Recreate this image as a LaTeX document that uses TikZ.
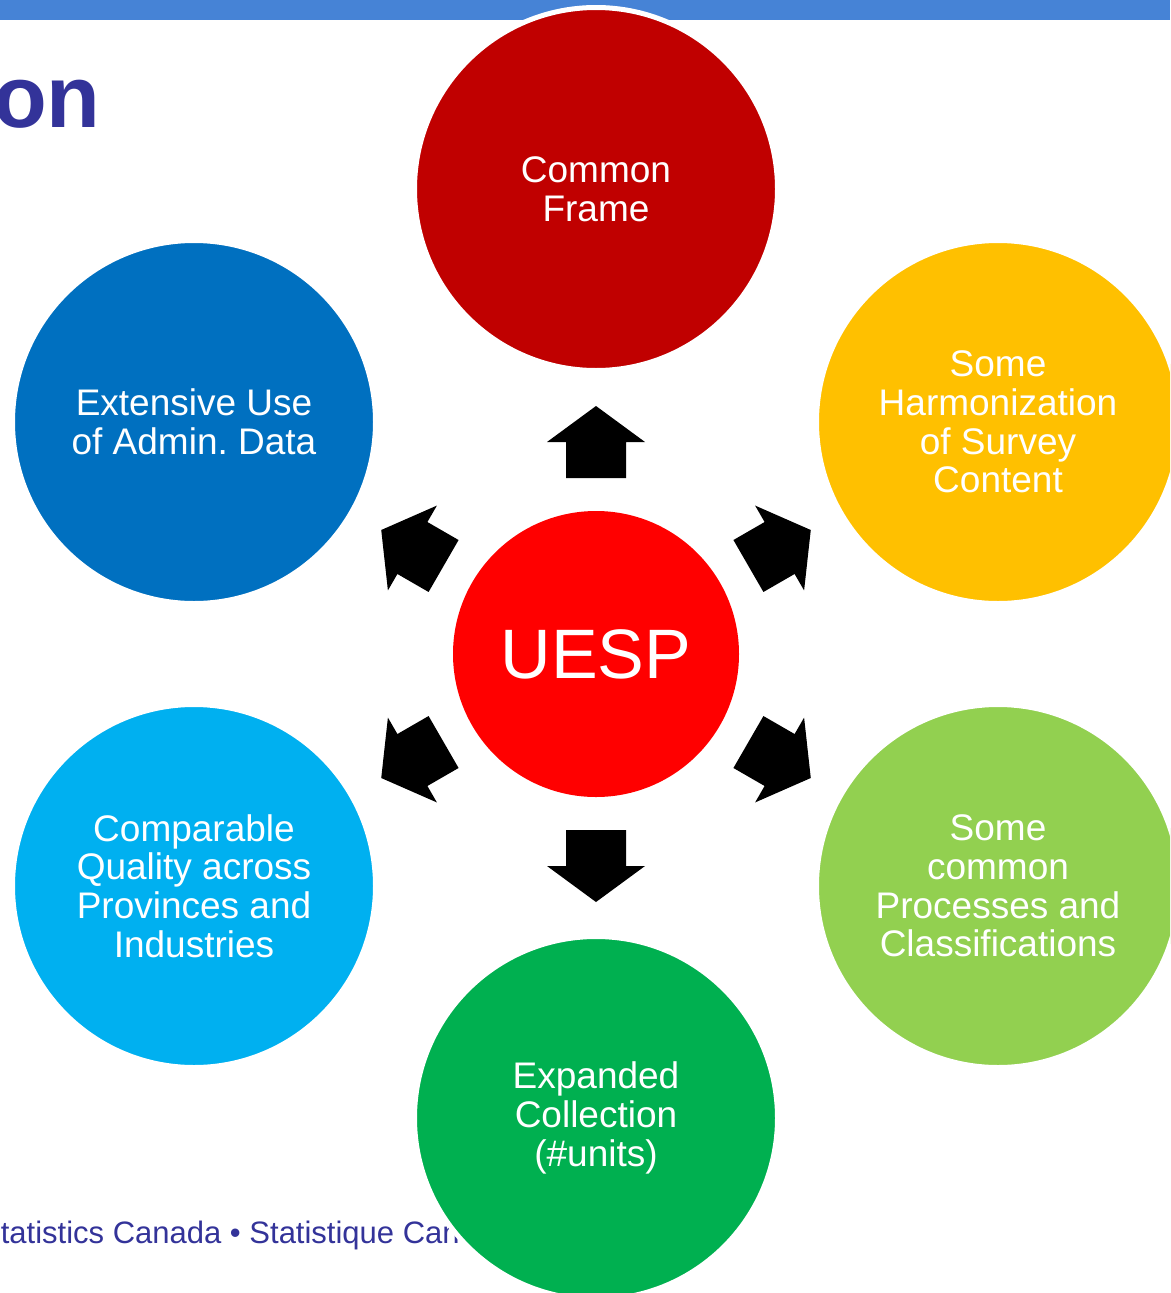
\documentclass[tikz,border=0pt]{standalone}
\usepackage{fontspec}
\setmainfont{Liberation Sans}
\frenchspacing
\definecolor{barblue}{RGB}{70,131,214}
\definecolor{titleblue}{RGB}{51,51,153}
\definecolor{cframe}{RGB}{192,0,0}
\definecolor{cadmin}{RGB}{0,112,192}
\definecolor{charm}{RGB}{255,192,0}
\definecolor{cqual}{RGB}{0,176,240}
\definecolor{cproc}{RGB}{146,208,80}
\definecolor{ccoll}{RGB}{0,176,80}
\definecolor{cuesp}{RGB}{255,0,0}
\begin{document}
\begin{tikzpicture}[x=1pt,y=-1pt,
  bubble/.style={circle, minimum size=363pt, inner sep=0pt, draw=white, line width=5pt,
    text=white, align=center, font=\fontsize{37}{38.7}\selectfont\frenchspacing},
  blockarrow/.style={fill=black}]
\useasboundingbox (0,0) rectangle (1170,1293);
\clip (0,0) rectangle (1170,1293);
\fill[barblue] (0,0) rectangle (1170,20);
\node[anchor=base west, inner sep=0pt, text=titleblue,
  font=\fontsize{88}{88}\bfseries\selectfont] (title) at (-7,127) {on};
\node[anchor=base west, inner sep=0pt, text=titleblue,
  font=\fontsize{31}{31}\selectfont] (footer) at (-20,1243) {Statistics Canada • Statistique Canada};
\node[bubble, fill=cframe] (frame) at (596,189) {Common\\Frame};
\node[bubble, fill=cadmin] (admin) at (194,422) {Extensive Use\\of Admin. Data};
\node[bubble, fill=charm] (harm) at (998,422) {Some\\Harmonization\\of Survey\\Content};
\node[bubble, fill=cqual] (qual) at (194,886) {Comparable\\Quality across\\Provinces and\\Industries};
\node[bubble, fill=cproc] (proc) at (998,886) {Some\\common\\Processes and\\Classifications};
\node[bubble, fill=ccoll] (coll) at (596,1118) {Expanded\\Collection\\(\#units)};
\node[circle, fill=cuesp, minimum size=286pt, inner sep=0pt, text=white,
  font=\fontsize{70}{70}\selectfont] (uesp) at (596,654) {UESP};
\foreach \a in {90,30,-30,-90,-150,150}{
  \fill[blockarrow, shift={(uesp.center)}, rotate=\a]
    (176,-30) -- (212,-30) -- (212,-49) -- (248,0) -- (212,49) -- (212,30) -- (176,30) -- cycle;
}
\end{tikzpicture}
\end{document}
